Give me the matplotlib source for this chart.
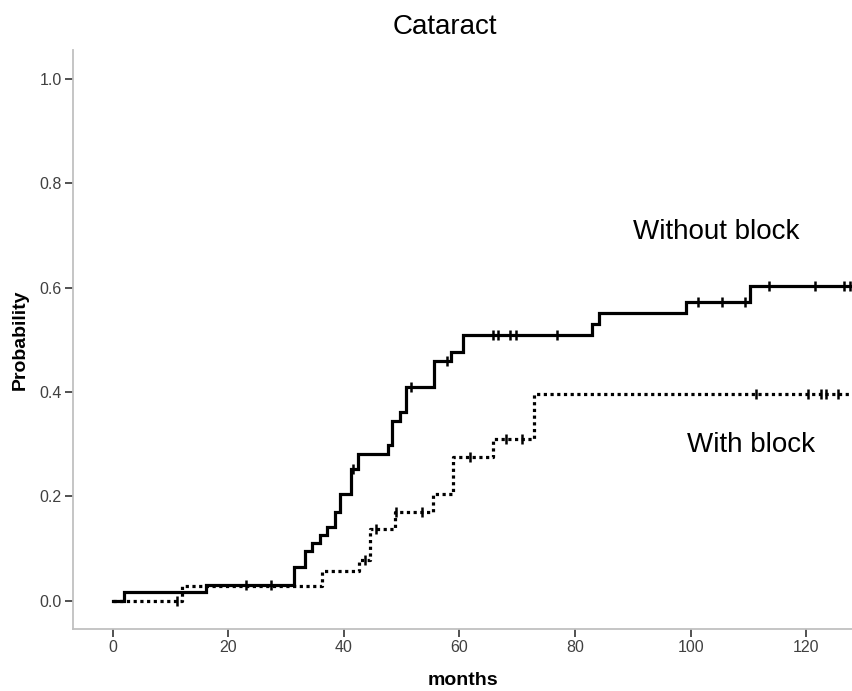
import numpy as np
import matplotlib
matplotlib.use('Agg')
import matplotlib.pyplot as plt

plt.rcParams['font.family'] = ['Liberation Sans', 'DejaVu Sans']

# Without block (solid): event times (months) and cumulative probability
t_without = [0, 2.0, 16.2, 31.3, 33.2, 34.4, 35.9, 37.1, 38.4, 39.4, 41.3, 42.4,
             47.6, 48.4, 49.7, 50.7, 55.6, 58.6, 60.6, 83.0, 84.1, 99.2, 110.3, 128]
p_without = [0, 0.016, 0.031, 0.064, 0.096, 0.110, 0.126, 0.142, 0.171, 0.204, 0.253, 0.282,
             0.298, 0.345, 0.361, 0.409, 0.460, 0.477, 0.510, 0.531, 0.552, 0.573, 0.603, 0.603]
c_without = [23.1, 27.4, 41.6, 51.6, 57.8, 65.8, 66.7, 68.8, 69.8, 76.9,
             101.2, 105.4, 109.4, 113.5, 121.5, 126.6, 127.5]

# With block (dotted)
t_with = [0, 12.0, 36.3, 42.6, 44.6, 48.8, 55.5, 58.8, 65.8, 72.9, 128]
p_with = [0, 0.028, 0.056, 0.078, 0.137, 0.171, 0.204, 0.275, 0.310, 0.397, 0.397]
c_with = [11.1, 43.6, 45.6, 49.0, 53.6, 61.8, 68.0, 70.8,
          111.3, 120.3, 122.6, 123.5, 125.5]


def level_at(times, probs, c):
    idx = np.searchsorted(times, c, side='right') - 1
    return np.array(probs)[idx]


fig = plt.figure(figsize=(8.53, 6.91), dpi=100)
ax = fig.add_axes([73 / 853, 1 - 629 / 691, 1 - 73 / 853, (629 - 50) / 691])

ax.step(t_without, p_without, where='post', color='black', lw=2.3, solid_joinstyle='miter')
ax.step(t_with, p_with, where='post', color='black', lw=2.3, linestyle=(0, (1, 1.1)))

# censored observations
ax.plot(c_without, level_at(t_without, p_without, c_without), ls='none',
        marker='|', ms=7.5, mew=1.8, color='black')
ax.plot(c_with, level_at(t_with, p_with, c_with), ls='none',
        marker='|', ms=7.5, mew=1.8, color='black')

ax.set_xlim(-6.87, 128.1)
ax.set_ylim(-0.0543, 1.056)
ax.set_xticks(range(0, 121, 20))
ax.set_yticks([0, 0.2, 0.4, 0.6, 0.8, 1.0])
ax.set_yticklabels(['0.0', '0.2', '0.4', '0.6', '0.8', '1.0'])

for s in ['top', 'right']:
    ax.spines[s].set_visible(False)
for s in ['left', 'bottom']:
    ax.spines[s].set_color('#c0c0c0')
    ax.spines[s].set_linewidth(1.3)
ax.tick_params(length=6, width=1.2, color='#333333', labelsize=11.5, labelcolor='#404040', pad=2)

ax.set_xlabel('months', fontsize=14, fontweight='bold', labelpad=12)
ax.set_ylabel('Probability', fontsize=14, fontweight='bold', labelpad=8)

fig.text(445 / 853, 1 - 27 / 691, 'Cataract', fontsize=20, ha='center', va='center')
ax.text(633 / 853, 1 - 232 / 691, 'Without block', transform=fig.transFigure,
        fontsize=20, ha='left', va='center')
ax.text(687 / 853, 1 - 445 / 691, 'With block', transform=fig.transFigure,
        fontsize=20, ha='left', va='center')

fig.savefig('out.png', dpi=100)
